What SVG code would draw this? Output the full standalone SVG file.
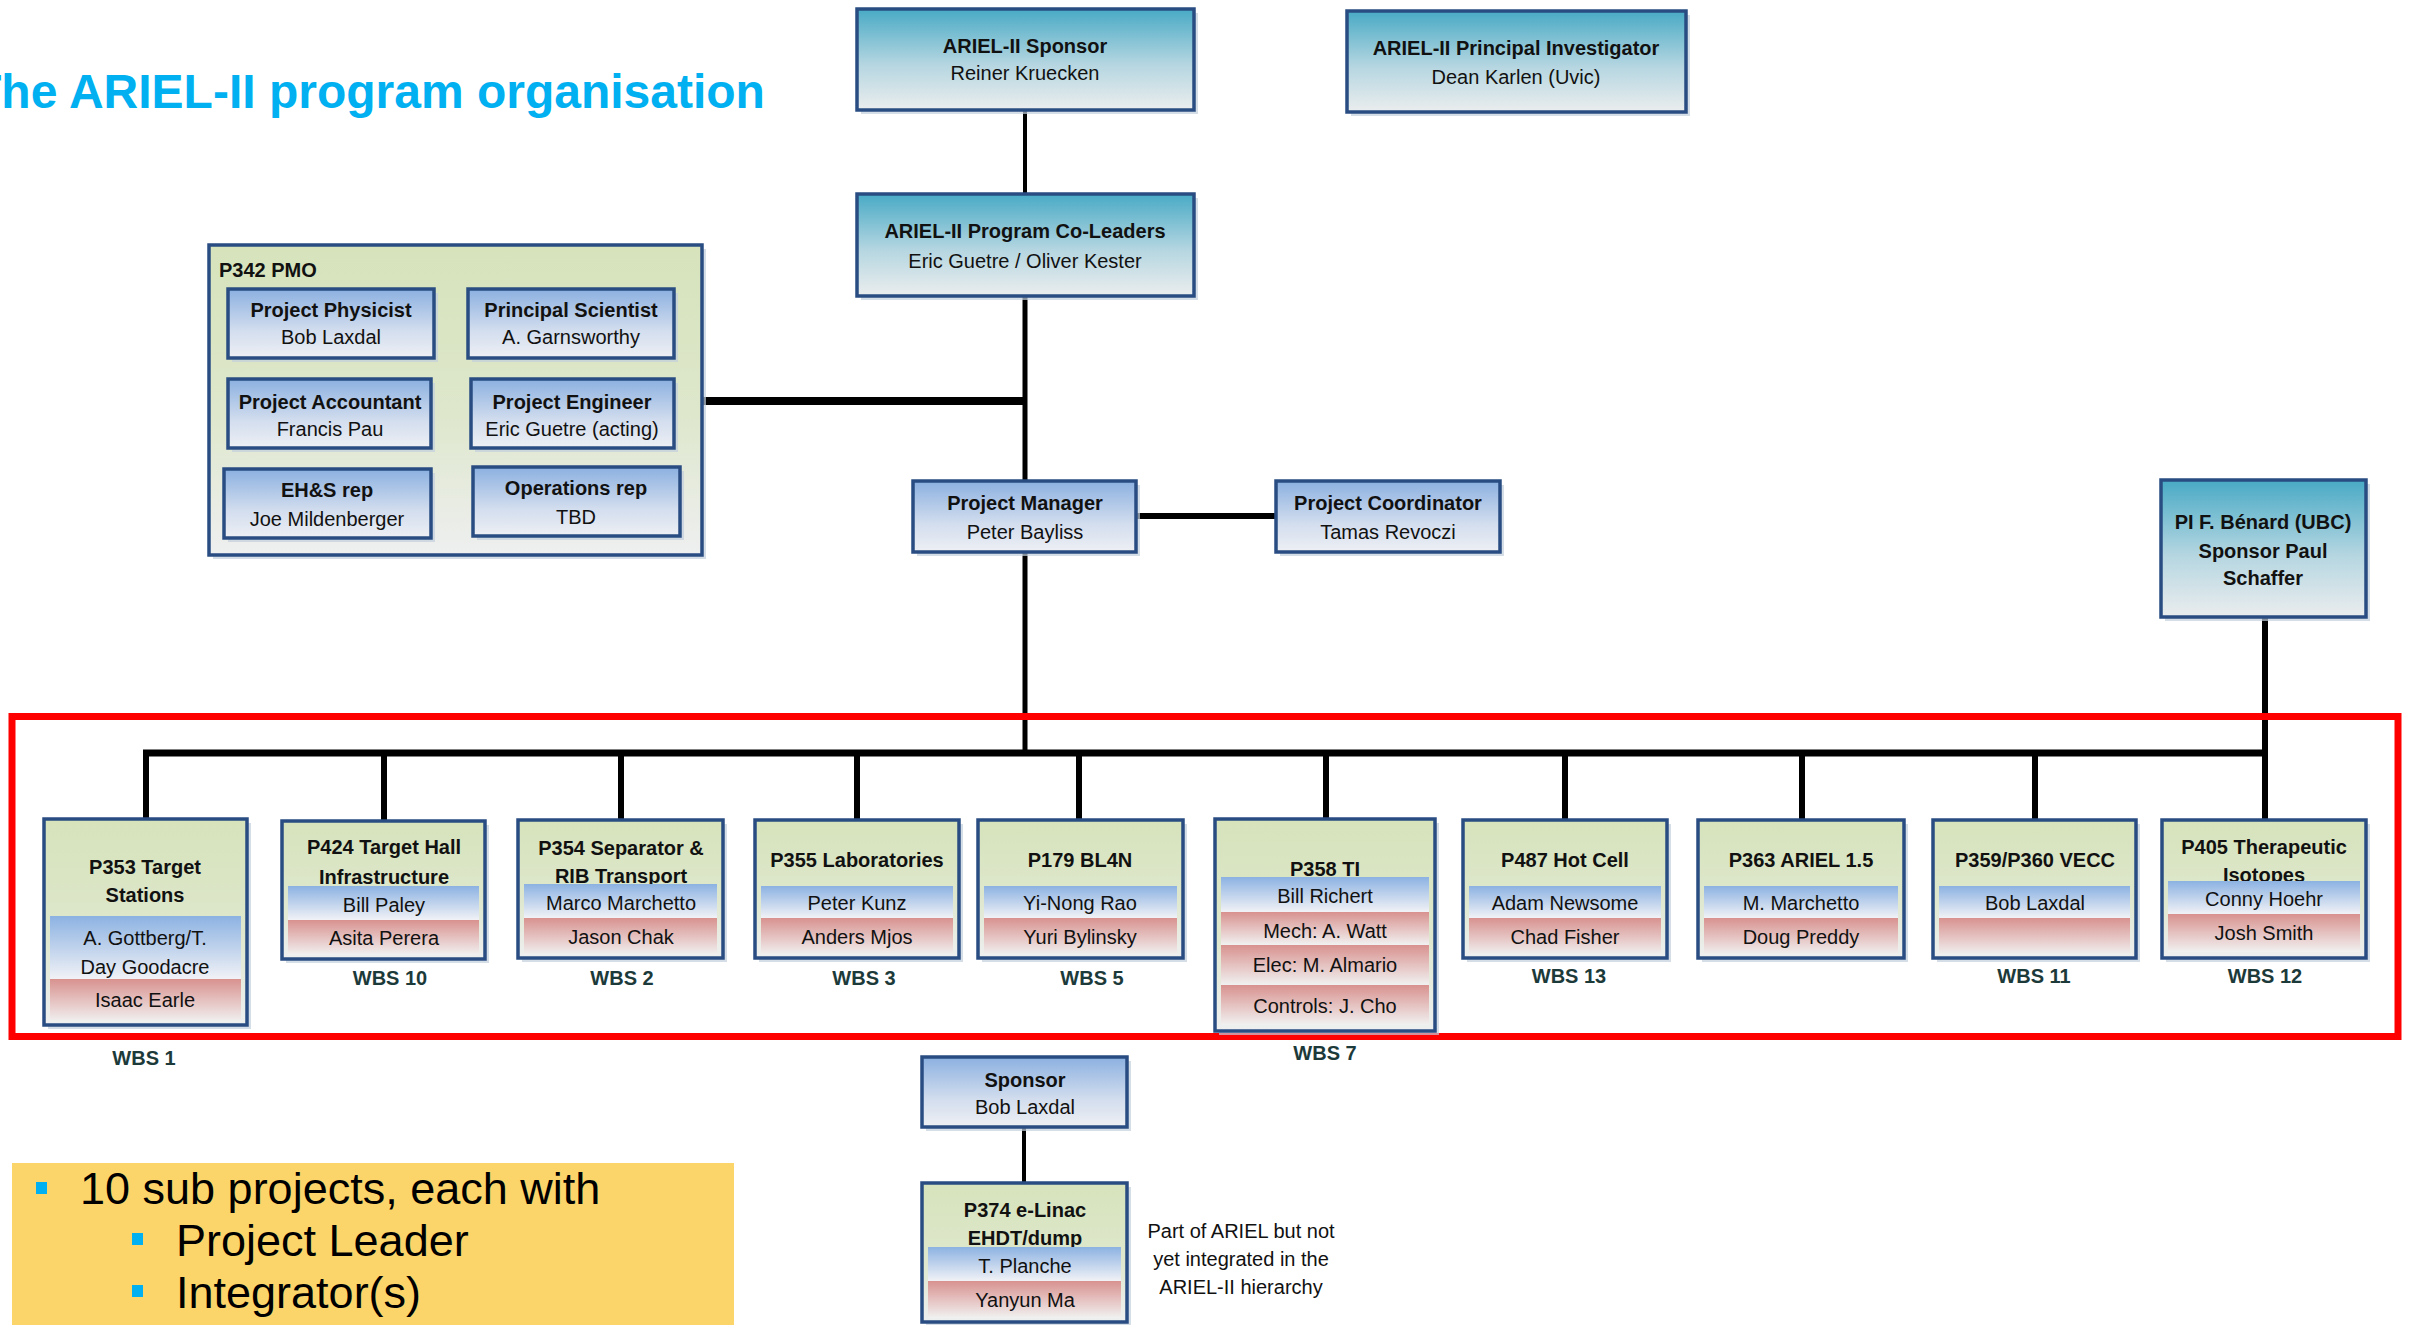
<svg xmlns="http://www.w3.org/2000/svg" width="2412" height="1325" viewBox="0 0 2412 1325">
<defs>
<linearGradient id="gTeal" x1="0" y1="0" x2="0" y2="1"><stop offset="0" stop-color="#48AAC5"/><stop offset="0.55" stop-color="#B5D6E1"/><stop offset="1" stop-color="#EBEDEE"/></linearGradient>
<linearGradient id="gBlue" x1="0" y1="0" x2="0" y2="1"><stop offset="0" stop-color="#8BB0E0"/><stop offset="0.6" stop-color="#D2DDEE"/><stop offset="1" stop-color="#EEF0F4"/></linearGradient>
<linearGradient id="gGreen" x1="0" y1="0" x2="0" y2="1"><stop offset="0" stop-color="#D6E3BB"/><stop offset="0.55" stop-color="#DEE7CC"/><stop offset="1" stop-color="#EEEFF0"/></linearGradient>
<linearGradient id="gBand" x1="0" y1="0" x2="0" y2="1"><stop offset="0" stop-color="#8CB2E2"/><stop offset="1" stop-color="#F1F2F6"/></linearGradient>
<linearGradient id="gRed" x1="0" y1="0" x2="0" y2="1"><stop offset="0" stop-color="#D8928F"/><stop offset="1" stop-color="#F1F1F1"/></linearGradient>
</defs>
<style>
.sh{fill:#C3CEDD;opacity:.7}
.bx{stroke:#294D82;stroke-width:3.5}
.teal{fill:url(#gTeal)}
.blue{fill:url(#gBlue)}
.green{fill:url(#gGreen)}
.band{fill:url(#gBand)}
.red{fill:url(#gRed)}
text{font-family:"Liberation Sans",Arial,sans-serif;font-size:20px;fill:#111;text-anchor:middle}
.bd{font-weight:bold}
.wbs{font-weight:bold;fill:#1D3A3A}
.cn{stroke:#000;fill:none}
.bul{fill:#00B0F0}
.big{font-size:45px;text-anchor:start;fill:#000}
</style>

<text x="-28" y="108" style="font-size:48px;font-weight:bold;fill:#00B0F0;text-anchor:start">The ARIEL-II program organisation</text>

<g id="connectors">
<line class="cn" x1="1025" y1="110" x2="1025" y2="194" stroke-width="4"/>
<line class="cn" x1="1025" y1="296" x2="1025" y2="481" stroke-width="5"/>
<line class="cn" x1="702" y1="401" x2="1025" y2="401" stroke-width="8"/>
<line class="cn" x1="1136" y1="516" x2="1276" y2="516" stroke-width="6"/>
<line class="cn" x1="1025" y1="552" x2="1025" y2="753" stroke-width="5"/>
<line class="cn" x1="143" y1="753" x2="2268" y2="753" stroke-width="7"/>
<line class="cn" x1="2265" y1="617" x2="2265" y2="820" stroke-width="6"/>
<g stroke-width="6" class="cn">
<line x1="146" y1="753" x2="146" y2="820"/>
<line x1="384" y1="753" x2="384" y2="821"/>
<line x1="621" y1="753" x2="621" y2="820"/>
<line x1="857" y1="753" x2="857" y2="820"/>
<line x1="1079" y1="753" x2="1079" y2="820"/>
<line x1="1326" y1="753" x2="1326" y2="820"/>
<line x1="1565" y1="753" x2="1565" y2="820"/>
<line x1="1802" y1="753" x2="1802" y2="820"/>
<line x1="2035" y1="753" x2="2035" y2="820"/>
</g>
<line class="cn" x1="1024" y1="1127" x2="1024" y2="1183" stroke-width="4"/>
</g>

<rect x="12" y="716.5" width="2386" height="320" fill="none" stroke="#FF0000" stroke-width="7"/>

<g id="sponsor">
<rect class="sh" x="861" y="13" width="337" height="101"/>
<rect class="bx teal" x="857" y="9" width="337" height="101"/>
<text class="bd" x="1025" y="53">ARIEL-II Sponsor</text>
<text x="1025" y="80">Reiner Kruecken</text>
</g>
<g id="pi">
<rect class="sh" x="1351" y="15" width="339" height="101"/>
<rect class="bx teal" x="1347" y="11" width="339" height="101"/>
<text class="bd" x="1516" y="55">ARIEL-II Principal Investigator</text>
<text x="1516" y="84">Dean Karlen (Uvic)</text>
</g>
<g id="coleaders">
<rect class="sh" x="861" y="198" width="337" height="102"/>
<rect class="bx teal" x="857" y="194" width="337" height="102"/>
<text class="bd" x="1025" y="238">ARIEL-II Program Co-Leaders</text>
<text x="1025" y="268">Eric Guetre / Oliver Kester</text>
</g>

<g id="pmo">
<rect class="sh" x="213" y="249" width="493" height="310"/>
<rect class="bx green" x="209" y="245" width="493" height="310"/>
<text class="bd" x="219" y="277" style="text-anchor:start">P342 PMO</text>
<g id="pmo-physicist">
<rect class="sh" x="232" y="293" width="206" height="69"/>
<rect class="bx blue" x="228" y="289" width="206" height="69"/>
<text class="bd" x="331" y="317">Project Physicist</text>
<text x="331" y="344">Bob Laxdal</text>
</g>
<g id="pmo-scientist">
<rect class="sh" x="472" y="293" width="206" height="69"/>
<rect class="bx blue" x="468" y="289" width="206" height="69"/>
<text class="bd" x="571" y="317">Principal Scientist</text>
<text x="571" y="344">A. Garnsworthy</text>
</g>
<g id="pmo-accountant">
<rect class="sh" x="232" y="383" width="203" height="69"/>
<rect class="bx blue" x="228" y="379" width="203" height="69"/>
<text class="bd" x="330" y="409">Project Accountant</text>
<text x="330" y="436">Francis Pau</text>
</g>
<g id="pmo-engineer">
<rect class="sh" x="475" y="383" width="203" height="69"/>
<rect class="bx blue" x="471" y="379" width="203" height="69"/>
<text class="bd" x="572" y="409">Project Engineer</text>
<text x="572" y="436">Eric Guetre (acting)</text>
</g>
<g id="pmo-ehs">
<rect class="sh" x="228" y="473" width="207" height="69"/>
<rect class="bx blue" x="224" y="469" width="207" height="69"/>
<text class="bd" x="327" y="497">EH&amp;S rep</text>
<text x="327" y="526">Joe Mildenberger</text>
</g>
<g id="pmo-ops">
<rect class="sh" x="477" y="471" width="207" height="69"/>
<rect class="bx blue" x="473" y="467" width="207" height="69"/>
<text class="bd" x="576" y="495">Operations rep</text>
<text x="576" y="524">TBD</text>
</g>
</g>

<g id="pm">
<rect class="sh" x="917" y="485" width="223" height="71"/>
<rect class="bx blue" x="913" y="481" width="223" height="71"/>
<text class="bd" x="1025" y="510">Project Manager</text>
<text x="1025" y="539">Peter Bayliss</text>
</g>
<g id="pc">
<rect class="sh" x="1280" y="485" width="224" height="71"/>
<rect class="bx blue" x="1276" y="481" width="224" height="71"/>
<text class="bd" x="1388" y="510">Project Coordinator</text>
<text x="1388" y="539">Tamas Revoczi</text>
</g>
<g id="benard">
<rect class="sh" x="2165" y="484" width="205" height="137"/>
<rect class="bx teal" x="2161" y="480" width="205" height="137"/>
<text class="bd" x="2263" y="529">PI F. Bénard (UBC)</text>
<text class="bd" x="2263" y="558">Sponsor Paul</text>
<text class="bd" x="2263" y="585">Schaffer</text>
</g>

<g id="p353">
<rect class="sh" x="48" y="823" width="203" height="206"/>
<rect class="bx green" x="44" y="819" width="203" height="206"/>
<text class="bd" x="145" y="874">P353 Target</text>
<text class="bd" x="145" y="902">Stations</text>
<rect class="band" x="50" y="916" width="191" height="63"/>
<rect class="red" x="50" y="979" width="191" height="43"/>
<text x="145" y="945">A. Gottberg/T.</text>
<text x="145" y="974">Day Goodacre</text>
<text x="145" y="1007">Isaac Earle</text>
</g>
<text class="wbs" x="144" y="1065">WBS 1</text>

<g id="p424">
<rect class="sh" x="286" y="825" width="203" height="138"/>
<rect class="bx green" x="282" y="821" width="203" height="138"/>
<text class="bd" x="384" y="854">P424 Target Hall</text>
<text class="bd" x="384" y="884">Infrastructure</text>
<rect class="band" x="288" y="886" width="191" height="34"/>
<rect class="red" x="288" y="920" width="191" height="35"/>
<text x="384" y="912">Bill Paley</text>
<text x="384" y="945">Asita Perera</text>
</g>
<text class="wbs" x="390" y="985">WBS 10</text>

<g id="p354">
<rect class="sh" x="522" y="824" width="205" height="138"/>
<rect class="bx green" x="518" y="820" width="205" height="138"/>
<text class="bd" x="621" y="855">P354 Separator &amp;</text>
<text class="bd" x="621" y="883">RIB Transport</text>
<rect class="band" x="524" y="884" width="193" height="34"/>
<rect class="red" x="524" y="918" width="193" height="37"/>
<text x="621" y="910">Marco Marchetto</text>
<text x="621" y="944">Jason Chak</text>
</g>
<text class="wbs" x="622" y="985">WBS 2</text>

<g id="p355">
<rect class="sh" x="759" y="824" width="204" height="138"/>
<rect class="bx green" x="755" y="820" width="204" height="138"/>
<text class="bd" x="857" y="867">P355 Laboratories</text>
<rect class="band" x="761" y="886" width="192" height="32"/>
<rect class="red" x="761" y="918" width="192" height="37"/>
<text x="857" y="910">Peter Kunz</text>
<text x="857" y="944">Anders Mjos</text>
</g>
<text class="wbs" x="864" y="985">WBS 3</text>

<g id="p179">
<rect class="sh" x="982" y="824" width="205" height="138"/>
<rect class="bx green" x="978" y="820" width="205" height="138"/>
<text class="bd" x="1080" y="867">P179 BL4N</text>
<rect class="band" x="984" y="886" width="193" height="32"/>
<rect class="red" x="984" y="918" width="193" height="37"/>
<text x="1080" y="910">Yi-Nong Rao</text>
<text x="1080" y="944">Yuri Bylinsky</text>
</g>
<text class="wbs" x="1092" y="985">WBS 5</text>

<g id="p358">
<rect class="sh" x="1219" y="823" width="220" height="212"/>
<rect class="bx green" x="1215" y="819" width="220" height="212"/>
<text class="bd" x="1325" y="876">P358 TI</text>
<rect class="band" x="1221" y="877" width="208" height="35"/>
<rect class="red" x="1221" y="912" width="208" height="33"/>
<rect class="red" x="1221" y="945" width="208" height="40"/>
<rect class="red" x="1221" y="985" width="208" height="40"/>
<text x="1325" y="903">Bill Richert</text>
<text x="1325" y="938">Mech: A. Watt</text>
<text x="1325" y="972">Elec: M. Almario</text>
<text x="1325" y="1013">Controls: J. Cho</text>
</g>
<text class="wbs" x="1325" y="1060">WBS 7</text>

<g id="p487">
<rect class="sh" x="1467" y="824" width="204" height="138"/>
<rect class="bx green" x="1463" y="820" width="204" height="138"/>
<text class="bd" x="1565" y="867">P487 Hot Cell</text>
<rect class="band" x="1469" y="886" width="192" height="32"/>
<rect class="red" x="1469" y="918" width="192" height="37"/>
<text x="1565" y="910">Adam Newsome</text>
<text x="1565" y="944">Chad Fisher</text>
</g>
<text class="wbs" x="1569" y="983">WBS 13</text>

<g id="p363">
<rect class="sh" x="1702" y="824" width="206" height="138"/>
<rect class="bx green" x="1698" y="820" width="206" height="138"/>
<text class="bd" x="1801" y="867">P363 ARIEL 1.5</text>
<rect class="band" x="1704" y="886" width="194" height="32"/>
<rect class="red" x="1704" y="918" width="194" height="37"/>
<text x="1801" y="910">M. Marchetto</text>
<text x="1801" y="944">Doug Preddy</text>
</g>

<g id="p359">
<rect class="sh" x="1937" y="824" width="203" height="138"/>
<rect class="bx green" x="1933" y="820" width="203" height="138"/>
<text class="bd" x="2035" y="867">P359/P360 VECC</text>
<rect class="band" x="1939" y="886" width="191" height="32"/>
<rect class="red" x="1939" y="918" width="191" height="37"/>
<text x="2035" y="910">Bob Laxdal</text>
</g>
<text class="wbs" x="2034" y="983">WBS 11</text>

<g id="p405">
<rect class="sh" x="2166" y="824" width="204" height="138"/>
<rect class="bx green" x="2162" y="820" width="204" height="138"/>
<text class="bd" x="2264" y="854">P405 Therapeutic</text>
<text class="bd" x="2264" y="882">Isotopes</text>
<rect class="band" x="2168" y="881" width="192" height="33"/>
<rect class="red" x="2168" y="914" width="192" height="38"/>
<text x="2264" y="906">Conny Hoehr</text>
<text x="2264" y="940">Josh Smith</text>
</g>
<text class="wbs" x="2265" y="983">WBS 12</text>

<g id="sponsor-bob">
<rect class="sh" x="926" y="1061" width="205" height="70"/>
<rect class="bx blue" x="922" y="1057" width="205" height="70"/>
<text class="bd" x="1025" y="1087">Sponsor</text>
<text x="1025" y="1114">Bob Laxdal</text>
</g>

<g id="p374">
<rect class="sh" x="926" y="1187" width="205" height="139"/>
<rect class="bx green" x="922" y="1183" width="205" height="139"/>
<text class="bd" x="1025" y="1217">P374 e-Linac</text>
<text class="bd" x="1025" y="1245">EHDT/dump</text>
<rect class="band" x="928" y="1247" width="193" height="34"/>
<rect class="red" x="928" y="1281" width="193" height="37"/>
<text x="1025" y="1273">T. Planche</text>
<text x="1025" y="1307">Yanyun Ma</text>
</g>

<g id="note">
<text x="1241" y="1238">Part of ARIEL but not</text>
<text x="1241" y="1266">yet integrated in the</text>
<text x="1241" y="1294">ARIEL-II hierarchy</text>
</g>

<g id="summary">
<rect x="12" y="1163" width="722" height="162" fill="#FCD56A"/>
<rect class="bul" x="36" y="1182" width="11" height="12"/>
<text class="big" x="80" y="1204">10 sub projects, each with</text>
<rect class="bul" x="132" y="1233" width="11" height="12"/>
<text class="big" x="176" y="1256">Project Leader</text>
<rect class="bul" x="132" y="1285" width="11" height="12"/>
<text class="big" x="176" y="1308">Integrator(s)</text>
</g>
</svg>
